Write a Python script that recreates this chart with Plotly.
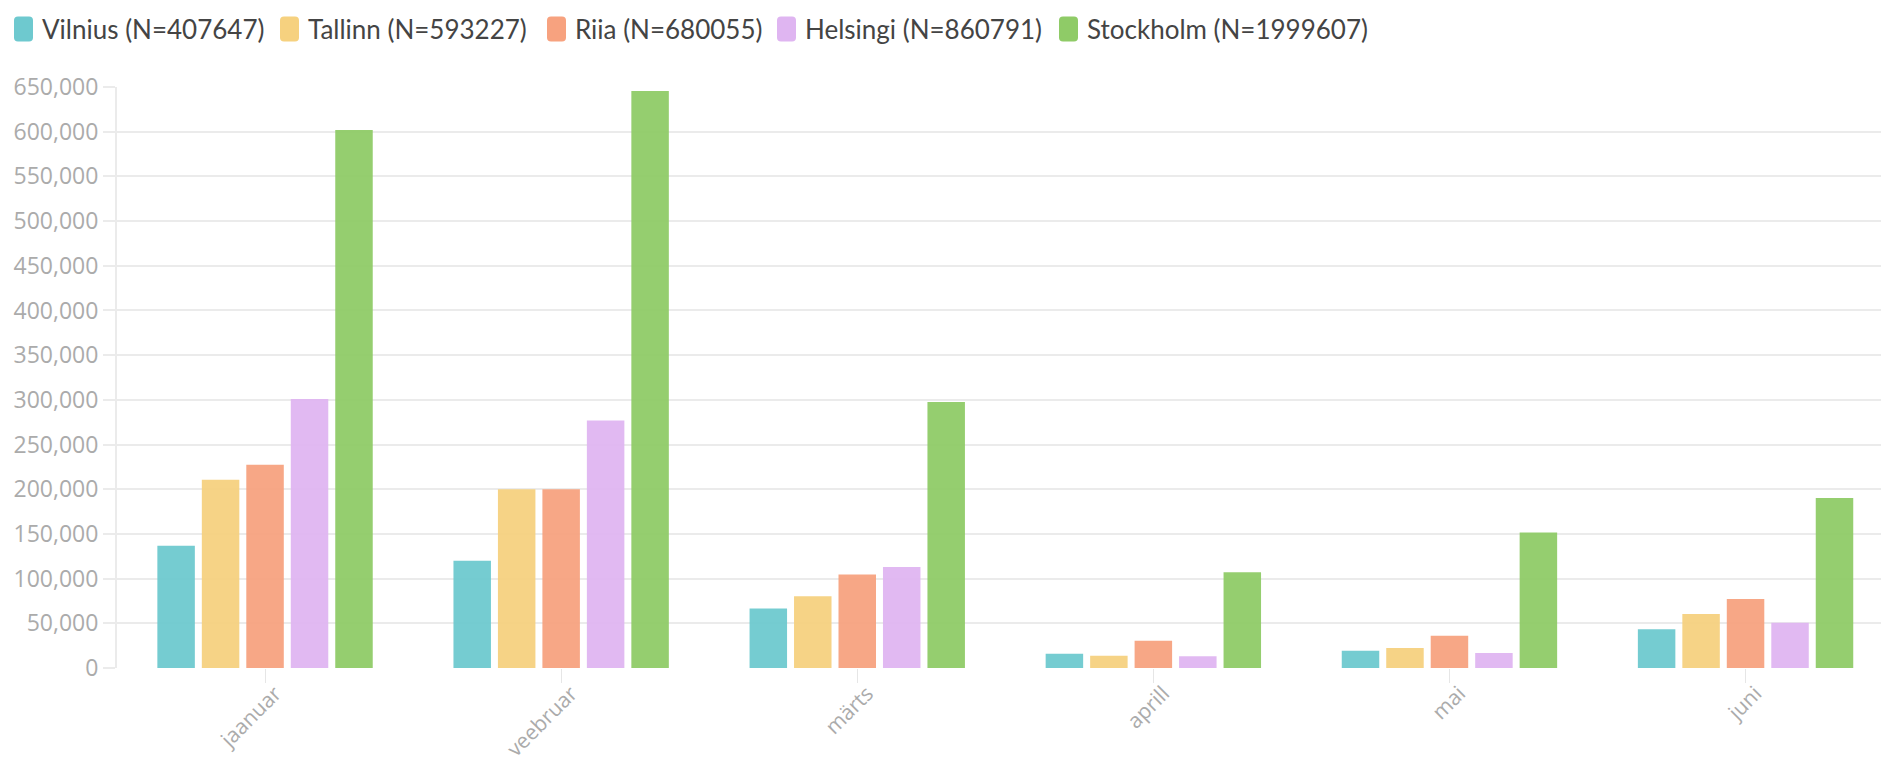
import plotly.graph_objects as go

# Monthly counts per city
months = ["jaanuar", "veebruar", "märts", "aprill", "mai", "juni"]
cities = ["Vilnius", "Tallinn", "Riia", "Helsingi", "Stockholm"]
totals = [407647, 593227, 680055, 860791, 1999607]

vilnius = [136800, 120100, 66500, 16000, 19400, 43300]
tallinn = [210600, 200000, 80200, 13800, 22400, 60400]
riia = [227400, 200000, 104500, 30500, 36200, 77200]
helsingi = [300900, 277000, 113000, 13100, 16800, 50700]
stockholm = [602000, 645600, 297600, 107000, 151600, 190200]

y_ticks = list(range(0, 650001, 50000))
colors = ["#6ec9cf", "#f6d17f", "#f7a27f", "#dfb5f1", "#8fcb67"]

series = [vilnius, tallinn, riia, helsingi, stockholm]

W, H = 1881, 765
ML, MR, MT, MB = 117, 0, 87, 97

fig = go.Figure()
for name, vals, col in zip(cities, series, colors):
    fig.add_trace(go.Bar(
        x=months, y=vals, name=name,
        marker=dict(color=col, line=dict(width=0)),
        opacity=0.95,
    ))

plot_w = W - ML - MR
plot_h = H - MT - MB


def px_to_paper_x(px):
    return (px - ML) / plot_w


def px_to_paper_y(py):
    return (H - MB - py) / plot_h


def rounded_rect_path(x0, y0, w, h, r):
    """SVG path (paper coords) for a rounded rectangle given in pixels."""
    X = px_to_paper_x
    Y = px_to_paper_y
    x1, y1 = x0 + w, y0 + h
    return (
        f"M {X(x0 + r)},{Y(y0)} L {X(x1 - r)},{Y(y0)} "
        f"Q {X(x1)},{Y(y0)} {X(x1)},{Y(y0 + r)} "
        f"L {X(x1)},{Y(y1 - r)} Q {X(x1)},{Y(y1)} {X(x1 - r)},{Y(y1)} "
        f"L {X(x0 + r)},{Y(y1)} Q {X(x0)},{Y(y1)} {X(x0)},{Y(y1 - r)} "
        f"L {X(x0)},{Y(y0 + r)} Q {X(x0)},{Y(y0)} {X(x0 + r)},{Y(y0)} Z"
    )


# Legend row drawn with swatches and labels
shapes = []
annotations = []
item_left = [14, 280, 547, 777, 1059]
sw_w, sw_h = 19, 25
leg_cy = 29
for i, (name, tot, col) in enumerate(zip(cities, totals, colors)):
    x0 = item_left[i]
    shapes.append(dict(
        type="path", xref="paper", yref="paper",
        path=rounded_rect_path(x0, leg_cy - sw_h / 2, sw_w, sw_h, 4),
        fillcolor=col, line=dict(width=0), layer="above",
    ))
    annotations.append(dict(
        xref="paper", yref="paper",
        x=px_to_paper_x(x0 + sw_w + 7), y=px_to_paper_y(leg_cy),
        xanchor="left", yanchor="middle", showarrow=False,
        text=f"{name} (N={tot})",
        font=dict(family="Lato", size=26, color="#444444"),
    ))

fig.update_layout(
    width=W, height=H,
    margin=dict(l=ML, r=MR, t=MT, b=MB, pad=0, autoexpand=False),
    paper_bgcolor="white", plot_bgcolor="white",
    barmode="group", bargap=0.249, bargroupgap=0.157,
    showlegend=False,
    shapes=shapes, annotations=annotations,
    xaxis=dict(
        range=[-0.5, (W - ML) / 296.1 - 0.5],
        automargin=False,
        tickangle=-45,
        tickfont=dict(family="Open Sans", size=21, color="#ababab"),
        ticks="outside", ticklen=14, tickcolor="#e6e6e6", tickwidth=1,
        ticklabelshift=10, ticklabelstandoff=-10,
        showgrid=False, showline=False, zeroline=False,
    ),
    yaxis=dict(
        range=[0, 650000],
        automargin=False,
        tickvals=y_ticks,
        ticktext=[f"{v:,}" for v in y_ticks],
        tickfont=dict(family="Open Sans", size=23, color="#ababab"),
        ticks="outside", ticklen=12, tickcolor="#ebebeb", tickwidth=2,
        showgrid=True, gridcolor="#ebebeb", gridwidth=2,
        showline=True, linecolor="#ebebeb", linewidth=2,
        zeroline=False,
    ),
)

fig.write_html("out.html")
